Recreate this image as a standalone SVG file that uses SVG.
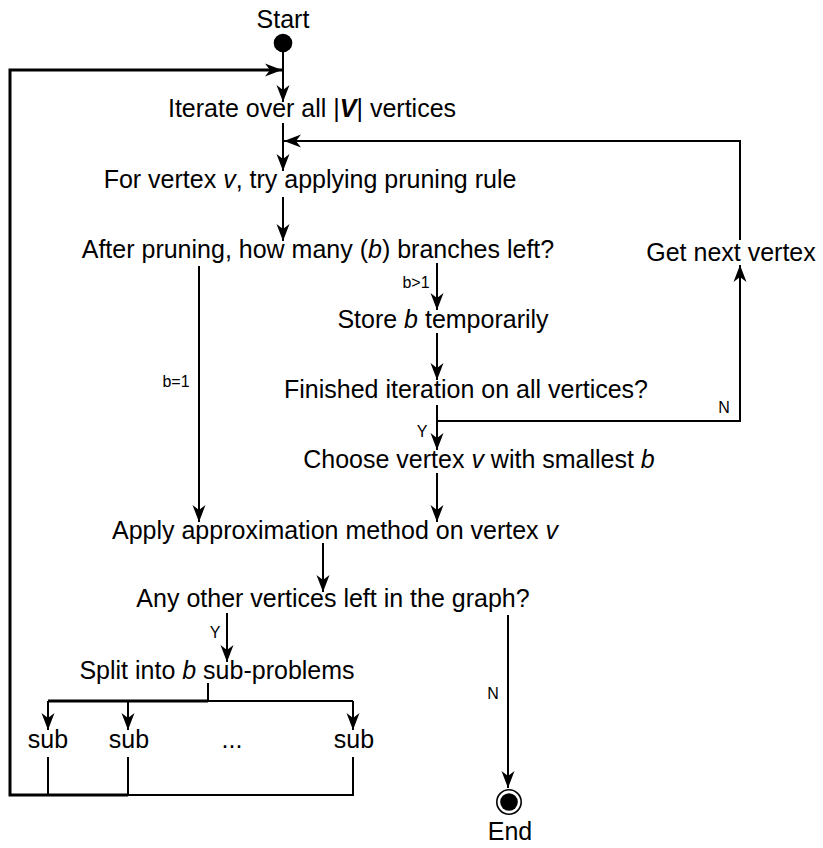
<svg xmlns="http://www.w3.org/2000/svg" width="823" height="848" viewBox="0 0 823 848">
<style>
.t{font-family:"Liberation Sans",Arial,sans-serif;font-size:25px;fill:#000;text-anchor:middle}
.s{font-family:"Liberation Sans",Arial,sans-serif;font-size:16px;fill:#000;text-anchor:middle}
.i{font-style:italic}
.bi{font-style:italic;font-weight:bold}
.c{fill:none;stroke:#000;stroke-width:2}
.k{fill:none;stroke:#000;stroke-width:3}
.a{marker-end:url(#arr)}
</style>
<defs>
<marker id="arr" markerUnits="userSpaceOnUse" viewBox="-18 -8 20 16" refX="0" refY="0" markerWidth="20" markerHeight="16" orient="auto">
<path d="M0,0 L-17,-6.5 L-12,0 L-17,6.5 Z" fill="#000"/>
</marker>
</defs>
<rect width="823" height="848" fill="#fff"/>
<g id="start"><circle cx="283" cy="43" r="9.3" fill="#000"/><text class="t" x="283" y="28">Start</text></g>
<g id="iterate"><text class="t" x="312" y="117">Iterate over all |<tspan class="bi">V</tspan>| vertices</text></g>
<g id="forvertex"><text class="t" x="310" y="188">For vertex <tspan class="i">v</tspan>, try applying pruning rule</text></g>
<g id="after"><text class="t" x="318" y="258">After pruning, how many (<tspan class="i">b</tspan>) branches left?</text></g>
<g id="store"><text class="t" x="443" y="328">Store <tspan class="i">b</tspan> temporarily</text></g>
<g id="finished"><text class="t" x="466" y="398">Finished iteration on all vertices?</text></g>
<g id="getnext"><text class="t" x="731" y="261">Get next vertex</text></g>
<g id="choose"><text class="t" x="479" y="468">Choose vertex <tspan class="i">v</tspan> with smallest <tspan class="i">b</tspan></text></g>
<g id="apply"><text class="t" x="335" y="539">Apply approximation method on vertex <tspan class="i">v</tspan></text></g>
<g id="any"><text class="t" x="333" y="607">Any other vertices left in the graph?</text></g>
<g id="split"><text class="t" x="217" y="679">Split into <tspan class="i">b</tspan> sub-problems</text></g>
<g id="sub1"><text class="t" x="48" y="748">sub</text></g>
<g id="sub2"><text class="t" x="129" y="748">sub</text></g>
<g id="dots"><text class="t" x="232" y="748">...</text></g>
<g id="sub3"><text class="t" x="354" y="748">sub</text></g>
<g id="end"><circle cx="509" cy="802" r="12.2" fill="#fff" stroke="#000" stroke-width="1.6"/><circle cx="509" cy="802" r="8.8" fill="#000"/><text class="t" x="510" y="840">End</text></g>
<g id="connectors">
<line class="c a" x1="283" y1="52" x2="283" y2="102"/>
<polyline class="k" points="283,70 10,70 10,795 128,795"/>
<line class="c a" x1="12" y1="70" x2="282" y2="70"/>
<line class="c a" x1="283" y1="123" x2="283" y2="171"/>
<polyline class="c a" points="740,240 740,141 284,141"/>
<line class="c a" x1="283" y1="197" x2="283" y2="241"/>
<line class="c a" x1="199" y1="266" x2="199" y2="522"/>
<line class="c a" x1="437" y1="263" x2="437" y2="310"/>
<line class="c a" x1="437" y1="333" x2="437" y2="380"/>
<line class="c a" x1="437" y1="405" x2="437" y2="450"/>
<polyline class="c a" points="437,421 740,421 740,265"/>
<line class="c a" x1="437" y1="473" x2="437" y2="522"/>
<line class="c a" x1="323" y1="543" x2="323" y2="592"/>
<line class="c a" x1="227" y1="613" x2="227" y2="662"/>
<line class="c a" x1="508" y1="615" x2="508" y2="788"/>
<line class="c" x1="208" y1="683" x2="208" y2="701"/>
<line class="k" x1="48" y1="701" x2="208" y2="701"/>
<line class="c" x1="208" y1="701" x2="353" y2="701"/>
<line class="c a" x1="48" y1="701" x2="48" y2="730"/>
<line class="c a" x1="128" y1="701" x2="128" y2="730"/>
<line class="c a" x1="353" y1="701" x2="353" y2="730"/>
<line class="c" x1="48" y1="757" x2="48" y2="795"/>
<line class="c" x1="128" y1="757" x2="128" y2="795"/>
<polyline class="c" points="128,795 353,795 353,757"/>
<text class="s" x="416" y="288">b&gt;1</text>
<text class="s" x="176" y="387">b=1</text>
<text class="s" x="724" y="413">N</text>
<text class="s" x="422" y="437">Y</text>
<text class="s" x="215" y="638">Y</text>
<text class="s" x="493" y="699">N</text>
</g>
</svg>
